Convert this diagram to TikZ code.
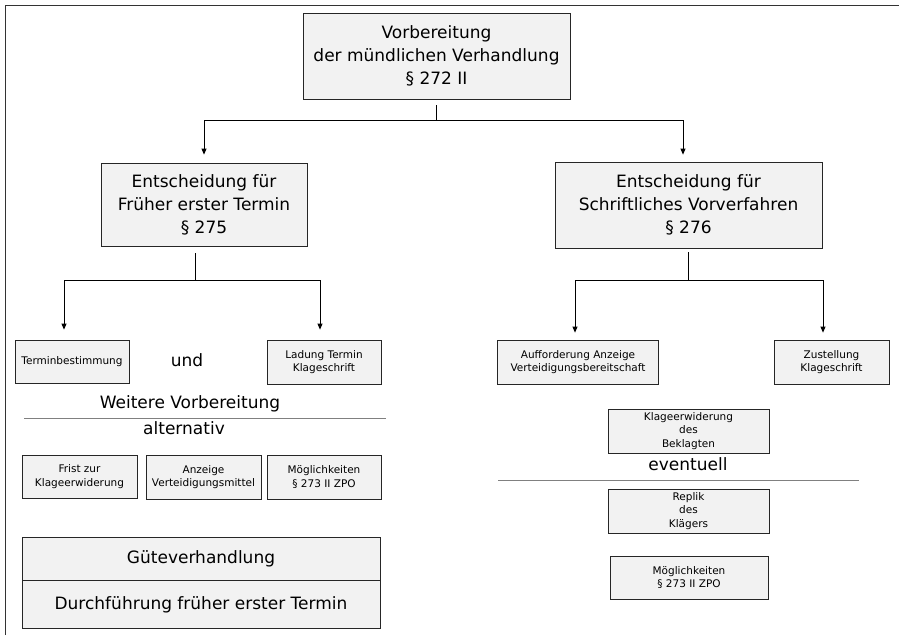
\documentclass[tikz,border=0pt]{standalone}
\usepackage{fontspec}
\setmainfont{DejaVu Sans}
\usepackage{tikz}
\usetikzlibrary{arrows.meta, positioning}

\newcommand{\bigtxt}{\fontsize{17}{23}\selectfont}
\newcommand{\smalltxt}{\fontsize{10.5}{13.5}\selectfont}

\begin{document}
\begin{tikzpicture}[x=1pt, y=-1pt,
        BigBox/.style={rectangle, draw=black!85, fill=black!5, line width=0.8pt, align=center, inner sep=0pt, font=\bigtxt},
        SmallBox/.style={rectangle, draw=black!85, fill=black!5, line width=0.8pt, align=center, inner sep=0pt, font=\smalltxt},
        Label/.style={align=center, inner sep=0pt, font=\bigtxt},
        Line/.style={draw=black, line width=0.8pt},
        Arrow/.style={draw=black, line width=0.8pt, -{Triangle[length=6pt, width=5pt]}},
        Rule/.style={draw=black!50, line width=1pt},
        Frame/.style={draw=black!80, line width=1pt}
    ]

    \useasboundingbox (0,0) rectangle (899,635);

    % Frame round the sheet (only left and top visible)
    \draw[Frame] (5,635) -- (5,5) -- (899,5);

    % Top box
    \node (Top) [BigBox, minimum width=267, minimum height=86] at (436.5,56) {Vorbereitung\\der mündlichen Verhandlung\\§ 272 II};

    % The two decisions
    \node (Frueh) [BigBox, minimum width=206, minimum height=83] at (204,204.5) {Entscheidung für\\Früher erster Termin\\§ 275};
    \node (Schrift) [BigBox, minimum width=267, minimum height=86] at (688.5,205) {Entscheidung für\\Schriftliches Vorverfahren\\§ 276};

    % Left branch: Frueher erster Termin
    \node (TerminB) [SmallBox, minimum width=114, minimum height=43] at (72,361.5) {Terminbestimmung};
    \node (Und) [Label] at (187,360) {und};
    \node (Ladung) [SmallBox, minimum width=114, minimum height=44] at (324,362) {Ladung Termin\\Klageschrift};

    \node (Weitere) [Label] at (190,404) {Weitere Vorbereitung};
    \coordinate (RuleL1) at (24,418);
    \coordinate (RuleL2) at (386,418);
    \node (Alt) [Label] at (184,428) {alternativ};

    \node (Frist) [SmallBox, minimum width=115, minimum height=43] at (79.5,476.5) {Frist zur\\Klageerwiderung};
    \node (AnzV) [SmallBox, minimum width=115, minimum height=44] at (203.5,477) {Anzeige\\Verteidigungsmittel};
    \node (MoegL) [SmallBox, minimum width=114, minimum height=44] at (324,477) {Möglichkeiten\\§ 273 II ZPO};

    \node (Guete) [BigBox, minimum width=358, minimum height=43] at (201,558.5) {Güteverhandlung};
    \node (Durch) [BigBox, minimum width=358, minimum height=48, below=0pt of Guete] {Durchführung früher erster Termin};

    % Right branch: Schriftliches Vorverfahren
    \node (Aufford) [SmallBox, minimum width=161, minimum height=44] at (578,362) {Aufforderung Anzeige\\Verteidigungsbereitschaft};
    \node (Zustell) [SmallBox, minimum width=115, minimum height=44] at (831.5,362) {Zustellung\\Klageschrift};

    \node (KlageErw) [SmallBox, minimum width=161, minimum height=44] at (688.5,431) {Klageerwiderung\\des\\Beklagten};
    \node (Event) [Label] at (688,464) {eventuell};
    \coordinate (RuleR1) at (498,480);
    \coordinate (RuleR2) at (859,480);
    \node (Replik) [SmallBox, minimum width=161, minimum height=44] at (688.5,511) {Replik\\des\\Klägers};
    \node (MoegR) [SmallBox, minimum width=158, minimum height=43] at (689,577.5) {Möglichkeiten\\§ 273 II ZPO};

    % Separator rules
    \draw[Rule] (RuleL1) -- (RuleL2);
    \draw[Rule] (RuleR1) -- (RuleR2);

    % Connections from the top box
    \coordinate (TopSplit) at (Top.south |- 0,120);
    \draw[Line] ([yshift=-6pt]Top.south) -- (TopSplit);
    \draw[Arrow, shorten >=8pt] (TopSplit) -| (Frueh.north);
    \draw[Arrow, shorten >=7pt] (TopSplit) -| ([xshift=-5.5pt]Schrift.north);

    % Connections below Frueher erster Termin
    \coordinate (FruehSplit) at ([xshift=-9pt]Frueh.south |- 0,280);
    \draw[Line] ([xshift=-9pt, yshift=-7pt]Frueh.south) -- (FruehSplit);
    \draw[Arrow, shorten >=10pt] (FruehSplit) -| ([xshift=-8pt]TerminB.north);
    \draw[Arrow, shorten >=10pt] (FruehSplit) -| ([xshift=-4pt]Ladung.north);

    % Connections below Schriftliches Vorverfahren
    \coordinate (SchriftSplit) at (Schrift.south |- 0,280);
    \draw[Line] ([yshift=-4pt]Schrift.south) -- (SchriftSplit);
    \draw[Arrow, shorten >=7pt] (SchriftSplit) -| ([xshift=-3pt]Aufford.north);
    \draw[Arrow, shorten >=7pt] (SchriftSplit) -| ([xshift=-8.5pt]Zustell.north);

\end{tikzpicture}
\end{document}
